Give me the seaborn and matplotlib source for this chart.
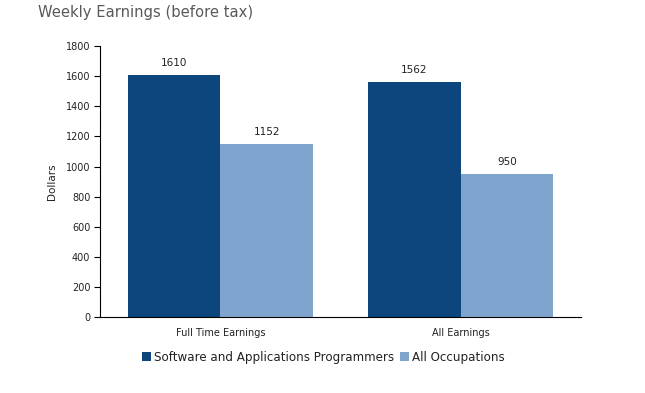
import matplotlib
matplotlib.use("Agg")
import matplotlib.pyplot as plt
import seaborn as sns
import pandas as pd

categories = ["Full Time Earnings", "All Earnings"]
series_names = ["Software and Applications Programmers", "All Occupations"]
programmers = [1610, 1562]
all_occupations = [1152, 950]
yticks = [0, 200, 400, 600, 800, 1000, 1200, 1400, 1600, 1800]

df = pd.DataFrame({
    "category": categories * 2,
    "series": [series_names[0]] * 2 + [series_names[1]] * 2,
    "value": programmers + all_occupations,
})

sns.set_style("white")
plt.rcParams["font.family"] = ["DejaVu Sans"]

fig = plt.figure(figsize=(6.45, 3.93), dpi=100)
ax = fig.add_axes([0.155, 0.193, 0.746, 0.690])

palette = ["#0C467D", "#7FA5CE"]
sns.barplot(data=df, x="category", y="value", hue="series", palette=palette,
            width=0.77, saturation=1, ax=ax, legend=True, linewidth=0)

for cont in ax.containers:
    ax.bar_label(cont, fmt="%d", padding=5, fontsize=7.5, color="#222222")

ax.set_ylim(0, 1800)
ax.set_yticks(yticks)
ax.set_yticklabels([str(v) for v in yticks], fontsize=7, color="#222222")
ax.set_xlim(-0.5, 1.5)
ax.set_xticks([0, 1])
ax.set_xticklabels(categories, fontsize=7, color="#222222")
ax.tick_params(axis="x", length=0, pad=8)
ax.set_xticks([-0.5, 0.5, 1.5], minor=True)
ax.tick_params(axis="x", which="minor", length=5, width=0.8, color="black", direction="out")
ax.tick_params(axis="y", length=4, width=0.8, color="black", direction="out", pad=3, left=True)

for s in ["top", "right"]:
    ax.spines[s].set_visible(False)
for s in ["left", "bottom"]:
    ax.spines[s].set_color("black")
    ax.spines[s].set_linewidth(0.8)

ax.set_xlabel("")
ax.set_ylabel("Dollars", fontsize=7.5, color="#222222", labelpad=6)

handles, labels = ax.get_legend_handles_labels()
ax.legend(handles, labels, loc="upper center", bbox_to_anchor=(0.465, -0.085),
          ncol=2, frameon=False, fontsize=8.6, handlelength=0.75, handleheight=0.75,
          handletextpad=0.25, columnspacing=0.5, labelcolor="#222222")

fig.text(0.059, 0.968, "Weekly Earnings (before tax)", fontsize=10.6, color="#595959",
         ha="left", va="center")

fig.savefig("out.png", dpi=100, facecolor="white")
